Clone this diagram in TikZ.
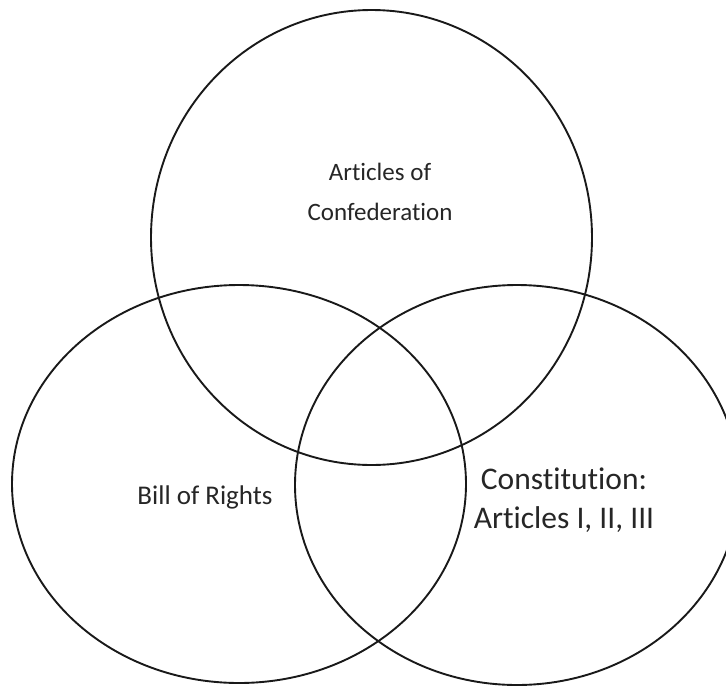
\documentclass[tikz,border=0pt]{standalone}
\usepackage{fontspec}
\setmainfont{Carlito}[Ligatures=NoCommon]
\begin{document}
\begin{tikzpicture}[x=1pt,y=-1pt,
  ring/.style={draw=black!90,line width=1.9pt},
  lbl/.style={align=center,text=black!85}]
\useasboundingbox (0,0) rectangle (726,686);
\begin{scope}
\clip (0,0) rectangle (726,686);
\draw[ring] (371.5,237.5) ellipse[x radius=220.5,y radius=227.5];
\draw[ring] (239,484) ellipse[x radius=227,y radius=199];
\draw[ring] (517,485) ellipse[x radius=222,y radius=200];
\end{scope}
\node[lbl,font=\fontsize{25}{40}\selectfont] (aoc) at (380,192) {Articles of\\Confederation};
\node[lbl,font=\fontsize{27}{40}\selectfont] (bor) at (205,497) {Bill of Rights};
\node[lbl,font=\fontsize{31.5}{39}\selectfont] (con) at (564,500) {Constitution:\\Articles I, II, III};
\end{tikzpicture}
\end{document}
